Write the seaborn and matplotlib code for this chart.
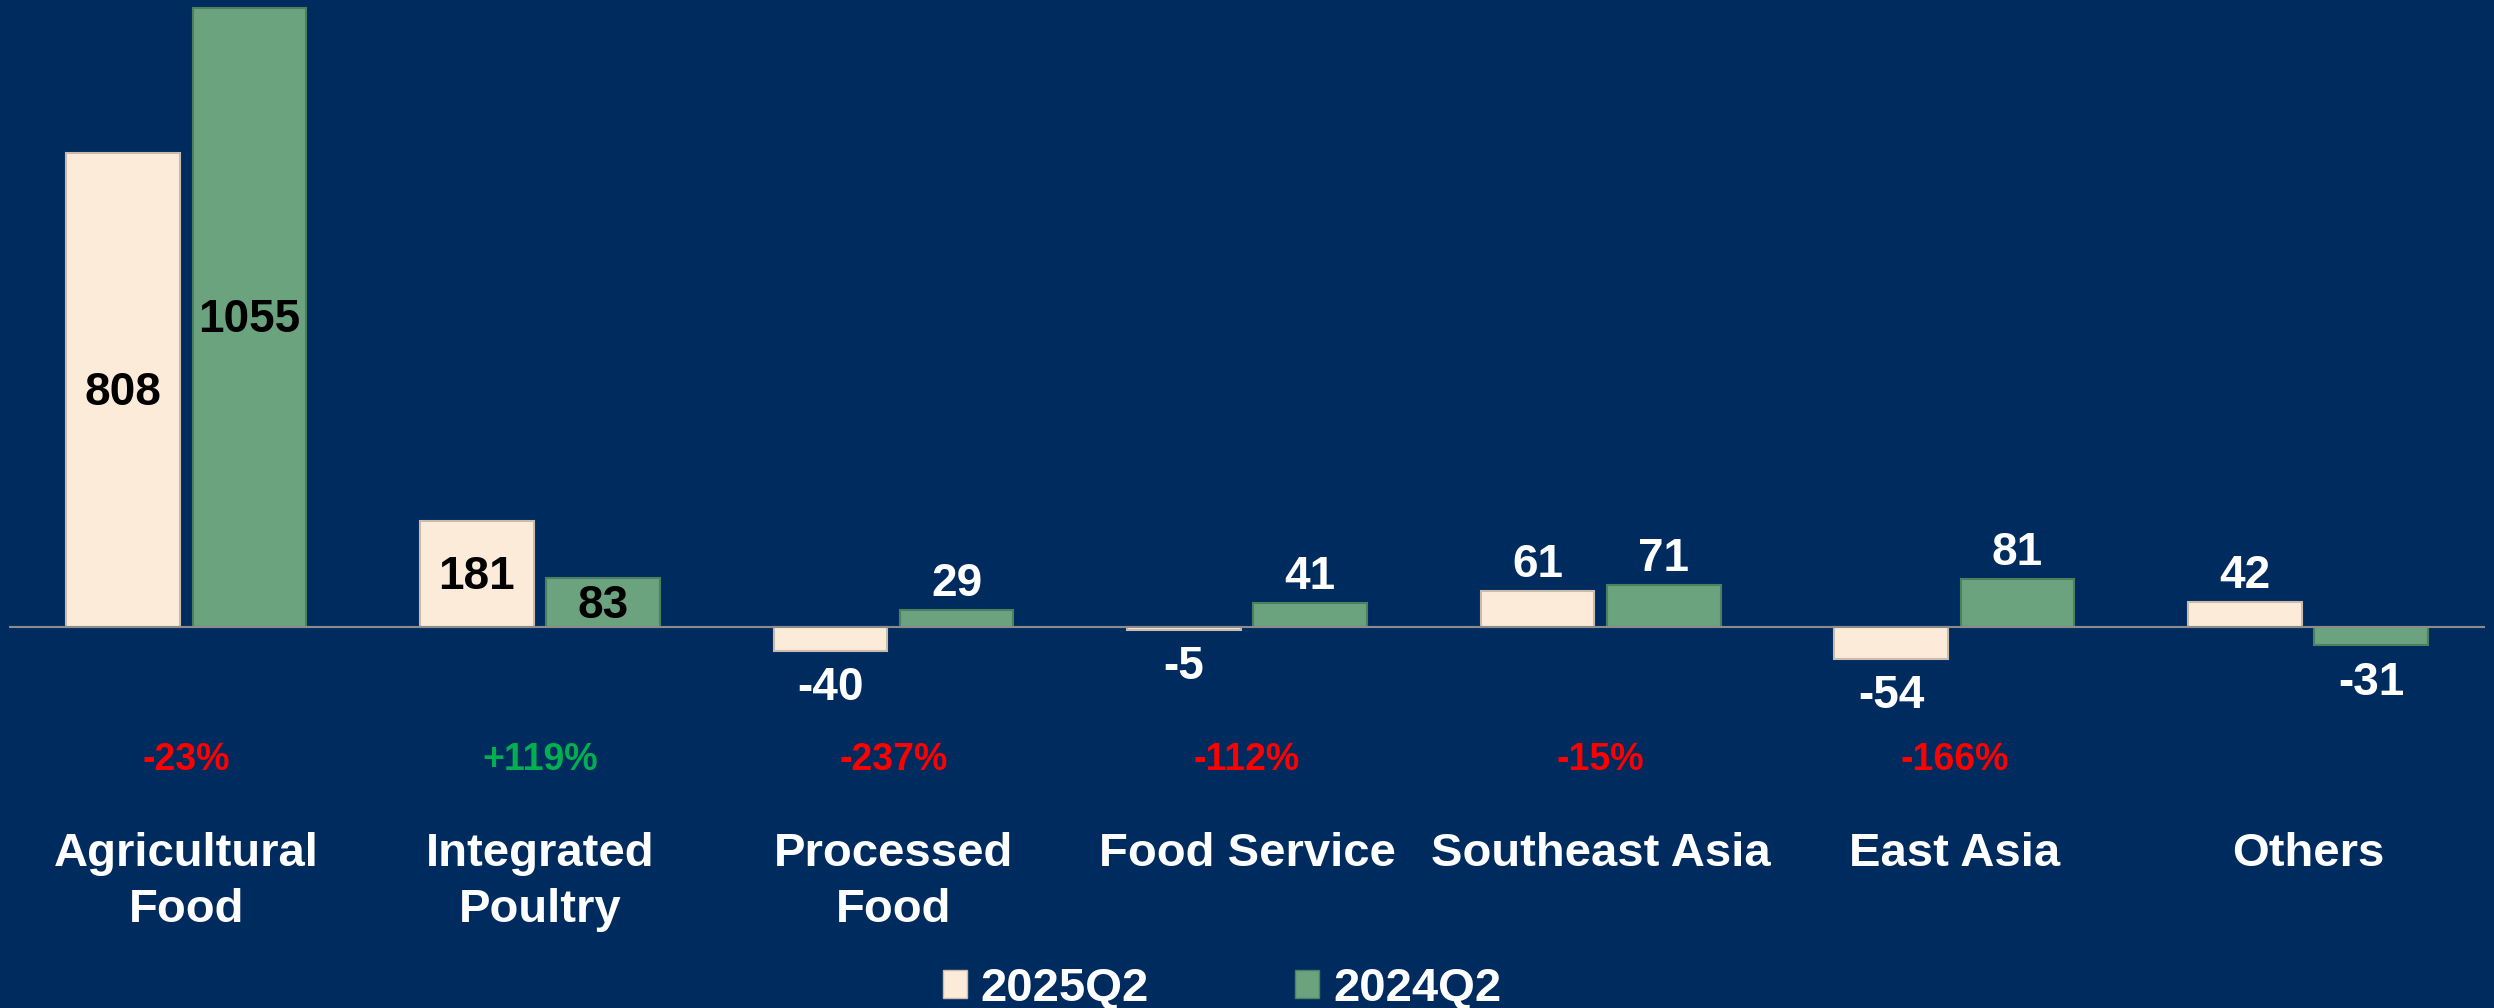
import pandas as pd
from matplotlib import pyplot as plt
from matplotlib.patches import Patch
import seaborn as sns

categories = ["Agricultural\nFood", "Integrated\nPoultry", "Processed\nFood", "Food Service",
              "Southeast Asia", "East Asia", "Others"]
periods = ["2025Q2", "2024Q2"]
values_2025q2 = [808, 181, -40, -5, 61, -54, 42]
values_2024q2 = [1055, 83, 29, 41, 71, 81, -31]
yoy_labels = ["-23%", "+119%", "-237%", "-112%", "-15%", "-166%", ""]

bg = "#002B5E"
cream = "#FDEBDA"
green = "#6BA37F"
edge_cols = ["#C9BBAE", "#4E7F5E"]
inside_groups = {"Agricultural\nFood", "Integrated\nPoultry"}

df = pd.DataFrame({
    "category": categories * 2,
    "period": [periods[0]] * len(categories) + [periods[1]] * len(categories),
    "value": values_2025q2 + values_2024q2,
})

plt.rcParams["font.family"] = ["Liberation Sans", "DejaVu Sans"]
plt.rcParams["font.weight"] = "bold"

fig = plt.figure(figsize=(24.94, 10.08), dpi=100, facecolor=bg)
ax = fig.add_axes([0.0038, 0.2063, 0.9925, 0.7937])
ax.set_facecolor(bg)

sns.barplot(data=df, x="category", y="value", hue="period", hue_order=periods,
            order=categories, palette=[cream, green], width=0.714, gap=0.1,
            saturation=1, legend=False, ax=ax)

for container, ec in zip(ax.containers, edge_cols):
    for bar in container:
        bar.set_edgecolor(ec)
        bar.set_linewidth(1.5)

ax.axhline(0, color="#8C8C8C", lw=1.5, zorder=1)
ax.set_xlim(-0.5, len(categories) - 0.5)
ax.set_ylim(-294.7, 1068)

# value labels
for container, vals in zip(ax.containers, [values_2025q2, values_2024q2]):
    for bar, cat, v in zip(container, categories, vals):
        cx = bar.get_x() + bar.get_width() / 2
        if cat in inside_groups:
            ax.text(cx, v / 2 - 5, str(v), ha="center", va="center", fontsize=33,
                    fontweight="bold", color="black")
        else:
            off = 19 if v > 0 else -27
            ax.annotate(str(v), (cx, v), xytext=(0, off), textcoords="offset points",
                        ha="center", va="center", fontsize=33, fontweight="bold",
                        color="white")

# yoy change labels
for i, lab in enumerate(yoy_labels):
    if lab:
        col = "#00B050" if lab.startswith("+") else "#FF0000"
        ax.text(i, -226, lab, ha="center", va="center", fontsize=27,
                fontweight="bold", color=col)

ax.set_xlabel("")
ax.set_ylabel("")
ax.set_yticks([])
ax.tick_params(axis="x", length=0, pad=23, labelsize=34, labelcolor="white")
for t in ax.get_xticklabels():
    t.set_fontweight("bold")
    t.set_linespacing(1.35)
for s in ax.spines.values():
    s.set_visible(False)

handles = [Patch(facecolor=cream, edgecolor=edge_cols[0]), Patch(facecolor=green, edgecolor=edge_cols[1])]
fig.legend(handles, periods, loc="center", bbox_to_anchor=(0.49, 0.019), ncol=2,
           frameon=False, labelcolor="white", handlelength=0.5,
           handleheight=0.55, handletextpad=0.3, columnspacing=3.1,
           prop={"weight": "bold", "size": 34})

fig.savefig("out.png", dpi=100, facecolor=bg)
